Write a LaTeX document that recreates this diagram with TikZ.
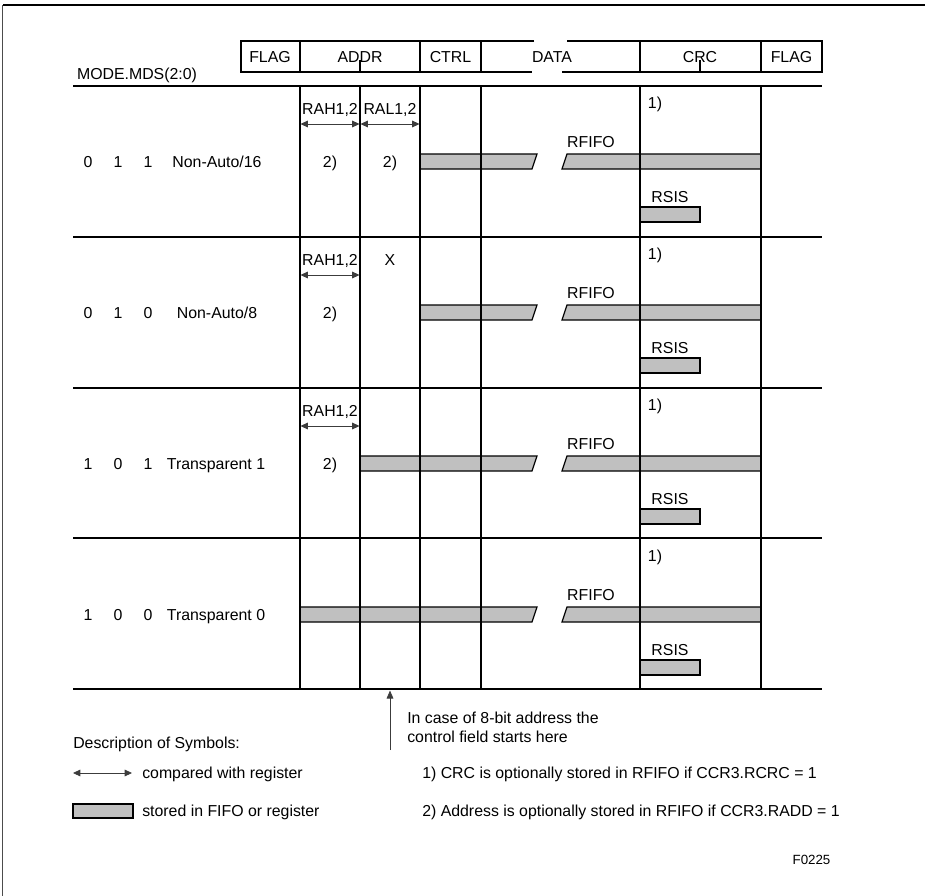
\documentclass[tikz,border=0pt]{standalone}
\usepackage{fontspec}
\setmainfont{Liberation Sans}
\usepackage{tikz}
\usetikzlibrary{arrows.meta, positioning, calc}
\definecolor{barfill}{RGB}{192,192,192}
\definecolor{arrgray}{RGB}{60,60,60}
\tikzset{
  lbl/.style={font=\fontsize{11.9}{13}\selectfont, inner sep=0pt,
    text height=8.5pt, text depth=0pt},
  smalllbl/.style={font=\fontsize{10}{12}\selectfont, inner sep=0pt,
    text height=7.2pt, text depth=0pt},
  gridline/.style={line width=0.9pt, color=black},
  fifobar/.style={draw=black, fill=barfill, line width=0.9pt},
  cmparrow/.style={{Triangle[length=5.5pt,width=5pt]}-{Triangle[length=5.5pt,width=5pt]},
    line width=0.6pt, color=arrgray},
  ptrarrow/.style={-{Triangle[length=6pt,width=5pt]}, line width=0.6pt, color=arrgray}
}

\begin{document}
\begin{tikzpicture}[x=0.75pt, y=-0.75pt]
  \useasboundingbox (0,0) rectangle (925,896);
  % outer frame
  \draw[line width=0.9pt] (925,5) -- (2.5,5);
  \draw[line width=0.5pt, color=black!70] (2.5,5) -- (2.5,896);
  % frame header
  \draw[gridline] (534,41) -- (241,41) -- (241,72) -- (532,72);
  \draw[gridline] (567,41) -- (822,41) -- (822,72) -- (562,72);
  \foreach \x in {300,420,481,640,761} \draw[gridline] (\x,41) -- (\x,72);
  \foreach \x in {360,700} \draw[gridline] (\x,60) -- (\x,72);
  \node[lbl] (hdflaga) at (270,56.5) {FLAG};
  \node[lbl] (hdaddr) at (360,56.5) {ADDR};
  \node[lbl] (hdctrl) at (450.5,56.5) {CTRL};
  \node[lbl] (hddata) at (552,56.5) {DATA};
  \node[lbl] (hdcrc) at (700,56.5) {CRC};
  \node[lbl] (hdflagb) at (791.5,56.5) {FLAG};
  \node[lbl] (mode) at (137,74) {MODE.MDS(2:0)};
  % stored parts (bars drawn below the grid)
  \foreach \yc/\xs in {161.5/420, 312.5/420, 463.5/360, 614.5/300} {
    \draw[fifobar] (\xs,\yc-7.5) -- (537,\yc-7.5) -- (532,\yc+7.5) -- (\xs,\yc+7.5) -- cycle;
    \draw[fifobar] (567,\yc-7.5) -- (761,\yc-7.5) -- (761,\yc+7.5) -- (562,\yc+7.5) -- cycle;
    \draw[fifobar] (640,\yc+45.5) rectangle (700,\yc+60.5);
    \node[lbl] at (591,\yc-19.5) {RFIFO};
    \node[lbl] at (670,\yc+35) {RSIS};
    \node[lbl] at (655,\yc-58.5) {1)};
  }
  % table grid
  \foreach \y in {86,237,388,538,689} \draw[gridline] (73,\y) -- (822,\y);
  \foreach \x in {300,360,420,481,640,761} \draw[gridline] (\x,86) -- (\x,689);
  % row labels
  \foreach \yc/\a/\b/\c in {161.5/0/1/1, 312.5/0/1/0, 463.5/1/0/1, 614.5/1/0/0} {
    \node[lbl] at (88,\yc) {\a};
    \node[lbl] at (118,\yc) {\b};
    \node[lbl] at (148,\yc) {\c};
  }
  \node[lbl] (mdsa) at (217,161.5) {Non-Auto/16};
  \node[lbl] (mdsb) at (217,312.5) {Non-Auto/8};
  \node[lbl] (mdsc) at (216,463.5) {Transparent 1};
  \node[lbl] (mdsd) at (216,614.5) {Transparent 0};
  % compared address parts
  \foreach \yc in {161.5, 312.5, 463.5} {
    \draw[cmparrow] (300.5,\yc-37.5) -- (359.5,\yc-37.5);
    \node[lbl] at (330,\yc-52.5) {RAH1,2};
    \node[lbl] at (330,\yc) {2)};
  }
  \draw[cmparrow] (360.5,124) -- (419.5,124);
  \node[lbl] (ral) at (390,109) {RAL1,2};
  \node[lbl] (ralopt) at (390,161.5) {2)};
  \node[lbl] (nocmp) at (390,260) {X};
  % 8-bit address note
  \coordinate (ptrtip) at (390,690.5);
  \coordinate (ptrfoot) at (390,750);
  \draw[ptrarrow] (ptrfoot) -- (ptrtip);
  \node[lbl, anchor=west] (notea) at (407,718) {In case of 8-bit address the};
  \node[lbl, anchor=west] (noteb) at (407,737) {control field starts here};
  % description of symbols
  \node[lbl, anchor=west] (desc) at (73,743) {Description of Symbols:};
  \draw[cmparrow] (73,773) -- (132,773);
  \node[lbl, anchor=west] (desccmp) at (142,773) {compared with register};
  \draw[fifobar] (73,804) rectangle (133,818);
  \node[lbl, anchor=west] (descsto) at (142,811) {stored in FIFO or register};
  \node[lbl, anchor=west] (fna) at (422,773) {1) CRC is optionally stored in RFIFO if CCR3.RCRC = 1};
  \node[lbl, anchor=west] (fnb) at (422,811) {2) Address is optionally stored in RFIFO if CCR3.RADD = 1};
  \node[smalllbl] (figno) at (811.5,860) {F0225};
\end{tikzpicture}
\end{document}
